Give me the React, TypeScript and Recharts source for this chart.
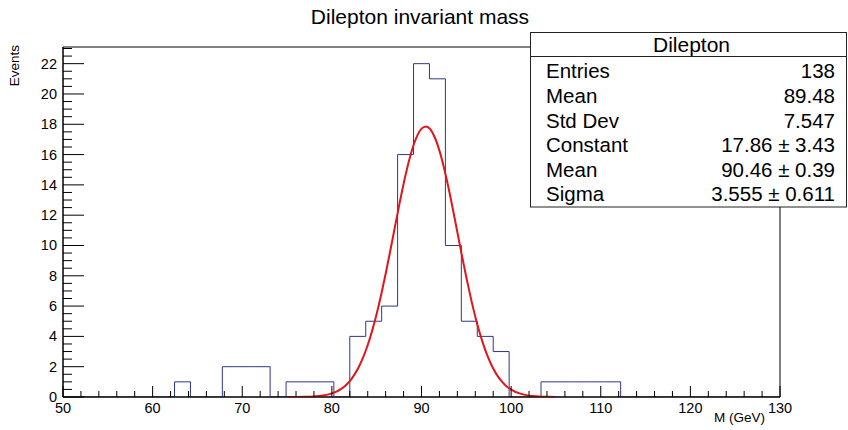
import React from 'react';
import { ComposedChart, Line, XAxis, YAxis, ReferenceArea } from 'recharts';

// ---------- data ----------
const X_MIN = 50;
const X_MAX = 130;
const Y_MAX = 23.1;

// 45 bins between 50 and 130 GeV
const binCounts = [
  0, 0, 0, 0, 0, 0, 0, 1, 0, 0, 2, 2, 2, 0, 1, 1, 1, 0, 4, 5, 6, 16, 22, 21, 10, 5, 4, 3, 0, 0, 1, 1, 1, 1, 1,
  0, 0, 0, 0, 0, 0, 0, 0, 0, 0,
];

// Gaussian fit curve
const fitX = [
  75, 76, 77, 78, 79, 80, 80.5, 81, 81.5, 82, 82.5, 83, 83.5, 84, 84.5, 85, 85.5, 86, 86.5, 87, 87.5, 88, 88.5, 89,
  89.5, 90, 90.5, 91, 91.5, 92, 92.5, 93, 93.5, 94, 94.5, 95, 95.5, 96, 96.5, 97, 97.5, 98, 98.5, 99, 99.5, 100,
  101, 102, 103, 104, 105,
];
const fitY = [
  0.0, 0.0, 0.01, 0.04, 0.1, 0.24, 0.35, 0.52, 0.75, 1.05, 1.46, 1.98, 2.63, 3.43, 4.38, 5.49, 6.75, 8.13, 9.6,
  11.12, 12.63, 14.06, 15.34, 16.42, 17.22, 17.71, 17.86, 17.66, 17.11, 16.26, 15.15, 13.84, 12.39, 10.88, 9.36,
  7.9, 6.54, 5.3, 4.22, 3.29, 2.51, 1.88, 1.38, 1.0, 0.7, 0.49, 0.22, 0.09, 0.04, 0.01, 0.0,
];

const xMajorTicks = [50, 60, 70, 80, 90, 100, 110, 120, 130];
const xMinorStep = 2;
const yMajorTicks = [0, 2, 4, 6, 8, 10, 12, 14, 16, 18, 20, 22];
const yMinorStep = 0.5;

const statsTitle = 'Dilepton';
const statsLabels = ['Entries', 'Mean', 'Std Dev', 'Constant', 'Mean', 'Sigma'];
const statsValues = ['138', '89.48', '7.547', '17.86 \u00b1 3.43', '90.46 \u00b1 0.39', '3.555 \u00b1 0.611'];

const title = 'Dilepton invariant mass';
const xTitle = 'M (GeV)';
const yTitle = 'Events';

// ---------- derived tables ----------
const binWidth = (X_MAX - X_MIN) / binCounts.length;
const histData = binCounts
  .map((c, i) => ({ x: X_MIN + i * binWidth, y: c }))
  .concat([{ x: X_MAX, y: 0 }]);
const fitData = fitX.map((x, i) => ({ x, y: fitY[i] }));

const xTicks: number[] = [];
for (let v = X_MIN; v <= X_MAX + 1e-9; v += xMinorStep) xTicks.push(Math.round(v * 100) / 100);
const yTicks: number[] = [];
for (let v = 0; v <= Y_MAX + 1e-9; v += yMinorStep) yTicks.push(Math.round(v * 100) / 100);

const FONT = '"Liberation Sans", Arial, Helvetica, sans-serif';

const XTick = (props: any) => {
  const { x, y, payload } = props;
  const v = payload.value;
  const major = xMajorTicks.includes(v);
  return (
    <g>
      <line x1={x} x2={x} y1={y} y2={y - (major ? 11 : 6)} stroke="#000" strokeWidth={1} />
      {major && (
        <text x={x} y={y + 16} textAnchor="middle" fontSize={14.5} fontFamily={FONT} fill="#000">
          {v}
        </text>
      )}
    </g>
  );
};

const YTick = (props: any) => {
  const { x, y, payload } = props;
  const v = payload.value;
  const major = yMajorTicks.includes(v);
  return (
    <g>
      <line x1={x} x2={x + (major ? 21 : 9)} y1={y} y2={y} stroke="#000" strokeWidth={1} />
      {major && (
        <text x={x - 6} y={y + 5} textAnchor="end" fontSize={14.5} fontFamily={FONT} fill="#000">
          {v}
        </text>
      )}
    </g>
  );
};

const XLabel = (props: any) => {
  const vb = props.viewBox || {};
  return (
    <text x={vb.x + vb.width - 15} y={422} textAnchor="end" fontSize={13.5} fontFamily={FONT} fill="#000">
      {xTitle}
    </text>
  );
};

const YLabel = () => (
  <text
    x={19}
    y={45}
    transform="rotate(-90 19 45)"
    textAnchor="end"
    fontSize={13.5}
    fontFamily={FONT}
    fill="#000"
  >
    {yTitle}
  </text>
);

export default function App() {
  const boxX = 530.5;
  const boxY = 32.5;
  const boxW = 316;
  const boxH = 174.5;
  return (
    <div style={{ position: 'relative', width: 848, height: 430, background: '#fff' }}>
      <style>{'body{margin:0;background:#fff}'}</style>
      <ComposedChart width={848} height={430} margin={{ top: 47, right: 68, bottom: 0, left: 0 }}>
        <XAxis
          type="number"
          dataKey="x"
          domain={[X_MIN, X_MAX]}
          ticks={xTicks}
          interval={0}
          allowDataOverflow
          height={33}
          tickSize={0}
          tickMargin={0}
          tickLine={false}
          tick={<XTick />}
          axisLine={{ stroke: '#000' }}
          label={<XLabel />}
        />
        <YAxis
          type="number"
          domain={[0, Y_MAX]}
          ticks={yTicks}
          interval={0}
          allowDataOverflow
          width={63}
          tickSize={0}
          tickMargin={0}
          tickLine={false}
          tick={<YTick />}
          axisLine={{ stroke: '#000' }}
          label={<YLabel />}
        />
        <ReferenceArea
          x1={X_MIN}
          x2={X_MAX}
          y1={0}
          y2={Y_MAX}
          fill="none"
          fillOpacity={0}
          stroke="#000"
          strokeWidth={1}
          ifOverflow="visible"
        />
        <Line
          data={histData}
          dataKey="y"
          type="stepAfter"
          stroke="#30368a"
          strokeWidth={1}
          dot={false}
          activeDot={false}
          isAnimationActive={false}
        />
        <Line
          data={fitData}
          dataKey="y"
          type="monotone"
          stroke="#e0161b"
          strokeWidth={2}
          dot={false}
          activeDot={false}
          isAnimationActive={false}
        />
      </ComposedChart>
      <svg
        width={848}
        height={430}
        style={{ position: 'absolute', left: 0, top: 0, pointerEvents: 'none' }}
      >
        <text x={420} y={24} textAnchor="middle" fontSize={21} fontFamily={FONT} fill="#000">
          {title}
        </text>
        <rect x={boxX} y={boxY} width={boxW} height={boxH} fill="#fff" stroke="#222" strokeWidth={1} />
        <line x1={boxX} x2={boxX + boxW} y1={56.5} y2={56.5} stroke="#222" strokeWidth={1} />
        <text x={boxX + boxW / 2 + 3} y={51.5} textAnchor="middle" fontSize={21} fontFamily={FONT} fill="#000">
          {statsTitle}
        </text>
        {statsLabels.map((lab, i) => (
          <g key={i}>
            <text x={546} y={78.3 + i * 24.6} fontSize={20.5} fontFamily={FONT} fill="#000">
              {lab}
            </text>
            <text x={835} y={78.3 + i * 24.6} textAnchor="end" fontSize={20.5} fontFamily={FONT} fill="#000">
              {statsValues[i]}
            </text>
          </g>
        ))}
      </svg>
    </div>
  );
}
